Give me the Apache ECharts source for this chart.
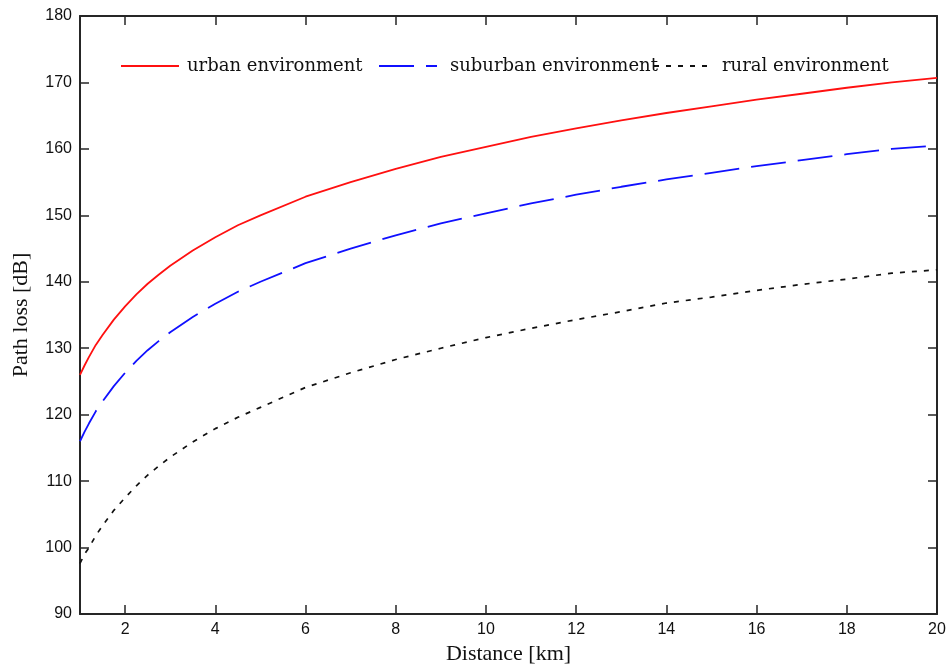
<!DOCTYPE html>
<html>
<head>
<meta charset="utf-8">
<title>Path loss vs distance</title>
<script src="https://cdn.jsdelivr.net/npm/echarts@6/dist/echarts.min.js"></script>
<style>
  html, body { margin: 0; padding: 0; background: #fff; }
  #chart { width: 949px; height: 670px; }
</style>
</head>
<body>
<div id="chart"></div>
<script>
// Distance samples in km
var distance = [1, 1.1, 1.2, 1.35, 1.5, 1.75, 2, 2.25, 2.5, 2.75, 3, 3.5, 4, 4.5, 5, 6, 7, 8, 9, 10, 11, 12, 13, 14, 15, 16, 17, 18, 19, 20];

// Path loss in dB for each environment
var urbanLoss = [126.0, 127.4, 128.7, 130.5, 132.0, 134.3, 136.3, 138.1, 139.7, 141.1, 142.4, 144.7, 146.7, 148.5, 150.0, 152.8, 155.0, 157.0, 158.8, 160.3, 161.8, 163.1, 164.3, 165.4, 166.4, 167.4, 168.3, 169.2, 170.0, 170.7];
var suburbanLoss = [116.0, 117.4, 118.7, 120.5, 122.0, 124.3, 126.3, 128.1, 129.7, 131.1, 132.4, 134.7, 136.7, 138.5, 140.0, 142.8, 145.0, 147.0, 148.8, 150.3, 151.8, 153.1, 154.3, 155.4, 156.4, 157.4, 158.3, 159.2, 160.0, 160.5];
var ruralLoss = [97.6, 99.0, 100.0, 101.8, 103.3, 105.6, 107.5, 109.3, 110.9, 112.3, 113.6, 115.9, 117.9, 119.6, 121.1, 124.1, 126.3, 128.3, 130.0, 131.6, 133.0, 134.3, 135.5, 136.8, 137.7, 138.7, 139.6, 140.4, 141.3, 141.8];

// Tick labels on the distance axis
var distanceTicks = [2, 4, 6, 8, 10, 12, 14, 16, 18, 20];

var seriesNames = ['urban environment', 'suburban environment', 'rural environment'];

function pairs(values) {
  return distance.map(function (d, i) { return [d, values[i]]; });
}

var axisColor = '#262626';
var tickFont = { fontFamily: 'Liberation Sans', fontSize: 16, color: '#111111' };
var nameFont = { fontFamily: 'Liberation Serif', fontSize: 22, color: '#111111' };

function xAxisDef(pos, labels) {
  return {
    type: 'value', position: pos, min: 1, max: 20,
    name: labels ? 'Distance [km]' : '',
    nameLocation: 'middle', nameGap: 29, nameTextStyle: nameFont,
    axisLine: { show: true, onZero: false, lineStyle: { color: axisColor, width: 2 } },
    axisTick: { show: true, inside: true, length: 9, customValues: distanceTicks, lineStyle: { color: axisColor, width: 1.5 } },
    axisLabel: { show: labels, margin: 8, customValues: distanceTicks, fontFamily: tickFont.fontFamily, fontSize: tickFont.fontSize, color: tickFont.color },
    splitLine: { show: false }
  };
}

function yAxisDef(pos, labels) {
  return {
    type: 'value', position: pos, min: 90, max: 180, interval: 10,
    name: labels ? 'Path loss [dB]' : '',
    nameLocation: 'middle', nameGap: 48, nameTextStyle: nameFont,
    axisLine: { show: true, onZero: false, lineStyle: { color: axisColor, width: 2 } },
    axisTick: { show: true, inside: true, length: 9, lineStyle: { color: axisColor, width: 1.5 } },
    axisLabel: { show: labels, margin: 8, fontFamily: tickFont.fontFamily, fontSize: tickFont.fontSize, color: tickFont.color },
    splitLine: { show: false }
  };
}

function legendDef(name, left, textPad) {
  return {
    data: [name], left: left, top: 57, padding: 0,
    itemWidth: 58, itemHeight: 14,
    selectedMode: false,
    itemStyle: { color: 'transparent', borderWidth: 0, opacity: 0 },
    textStyle: { fontFamily: 'DejaVu Serif', fontSize: 18, color: '#111111', padding: [0, 0, 0, textPad] }
  };
}

var chart = echarts.init(document.getElementById('chart'), null, { renderer: 'canvas' });
chart.setOption({
  animation: false,
  backgroundColor: '#ffffff',
  grid: { left: 80, right: 12, top: 16, bottom: 53, containLabel: false },
  legend: [
    legendDef(seriesNames[0], 120, 3),
    legendDef(seriesNames[1], 378, 8),
    legendDef(seriesNames[2], 653, 5)
  ],
  xAxis: [xAxisDef('bottom', true), xAxisDef('top', false)],
  yAxis: [yAxisDef('left', true), yAxisDef('right', false)],
  series: [
    {
      name: seriesNames[0], type: 'line', symbol: 'none', smooth: false,
      data: pairs(urbanLoss),
      lineStyle: { color: '#ff1010', width: 1.8, type: 'solid' },
      itemStyle: { color: '#ff1010' }
    },
    {
      name: seriesNames[1], type: 'line', symbol: 'none', smooth: false,
      data: pairs(suburbanLoss),
      lineStyle: { color: '#1010ff', width: 1.8, type: [35, 12] },
      itemStyle: { color: '#1010ff' }
    },
    {
      name: seriesNames[2], type: 'line', symbol: 'none', smooth: false,
      data: pairs(ruralLoss),
      lineStyle: { color: '#111111', width: 1.7, type: [5, 7] },
      itemStyle: { color: '#111111' }
    }
  ]
});
</script>
</body>
</html>
